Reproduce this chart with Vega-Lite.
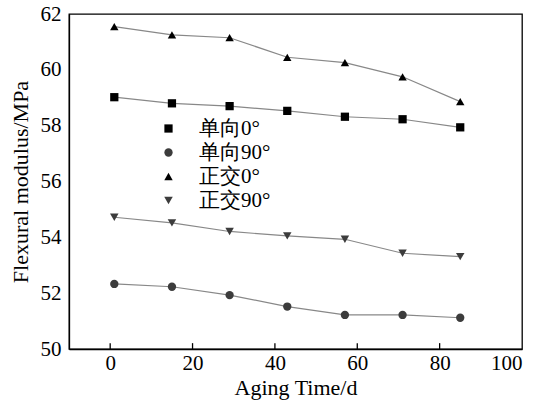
{
  "$schema": "https://vega.github.io/schema/vega-lite/v6.json",
  "width": 453,
  "height": 335,
  "autosize": "none",
  "padding": {"left": 69, "top": 14, "right": 13, "bottom": 54},
  "background": "white",
  "config": {
    "view": {"stroke": "#000", "strokeWidth": 1.3},
    "font": "Liberation Serif",
    "axis": {
      "grid": false,
      "domainColor": "#000",
      "domainWidth": 1.3,
      "tickColor": "#000",
      "tickWidth": 1.3,
      "labelColor": "#000",
      "titleColor": "#000",
      "labelFont": "Liberation Serif",
      "titleFont": "Liberation Serif",
      "labelFontSize": 21,
      "titleFontSize": 22,
      "titleFontWeight": "normal"
    },
    "legend": {
      "title": null,
      "orient": "none",
      "legendX": 89,
      "legendY": 104,
      "symbolSize": 64,
      "labelFont": "Liberation Serif",
      "labelFontSize": 21,
      "labelColor": "#000",
      "labelOffset": 20,
      "rowPadding": 2
    }
  },
  "data": {
    "values": [
      {"t": 1, "s": "单向0°", "v": 59.02},
      {"t": 15, "s": "单向0°", "v": 58.8},
      {"t": 29, "s": "单向0°", "v": 58.7},
      {"t": 43, "s": "单向0°", "v": 58.53},
      {"t": 57, "s": "单向0°", "v": 58.32},
      {"t": 71, "s": "单向0°", "v": 58.23},
      {"t": 85, "s": "单向0°", "v": 57.94},
      {"t": 1, "s": "单向90°", "v": 52.33},
      {"t": 15, "s": "单向90°", "v": 52.23},
      {"t": 29, "s": "单向90°", "v": 51.93},
      {"t": 43, "s": "单向90°", "v": 51.52},
      {"t": 57, "s": "单向90°", "v": 51.22},
      {"t": 71, "s": "单向90°", "v": 51.22},
      {"t": 85, "s": "单向90°", "v": 51.12},
      {"t": 1, "s": "正交0°", "v": 61.55},
      {"t": 15, "s": "正交0°", "v": 61.25},
      {"t": 29, "s": "正交0°", "v": 61.15},
      {"t": 43, "s": "正交0°", "v": 60.45},
      {"t": 57, "s": "正交0°", "v": 60.26},
      {"t": 71, "s": "正交0°", "v": 59.75},
      {"t": 85, "s": "正交0°", "v": 58.86},
      {"t": 1, "s": "正交90°", "v": 54.72},
      {"t": 15, "s": "正交90°", "v": 54.52},
      {"t": 29, "s": "正交90°", "v": 54.21},
      {"t": 43, "s": "正交90°", "v": 54.05},
      {"t": 57, "s": "正交90°", "v": 53.93},
      {"t": 71, "s": "正交90°", "v": 53.43},
      {"t": 85, "s": "正交90°", "v": 53.31}
    ]
  },
  "layer": [
    {
      "mark": {"type": "line", "color": "#888", "strokeWidth": 1.2},
      "encoding": {
        "x": {
          "field": "t",
          "type": "quantitative",
          "scale": {"domain": [-10, 100], "nice": false, "zero": false},
          "axis": {
            "title": "Aging Time/d",
            "values": [0, 20, 40, 60, 80, 100],
            "ticks": false,
            "labelPadding": 3,
            "titlePadding": 4
          }
        },
        "y": {
          "field": "v",
          "type": "quantitative",
          "scale": {"domain": [50, 62], "nice": false, "zero": false},
          "axis": {
            "title": "Flexural modulus/MPa",
            "values": [50, 52, 54, 56, 58, 60, 62],
            "ticks": false,
            "labelPadding": 8,
            "titlePadding": 8
          }
        },
        "detail": {"field": "s", "type": "nominal"}
      }
    },
    {
      "mark": {"type": "point", "filled": true, "opacity": 1},
      "encoding": {
        "x": {"field": "t", "type": "quantitative"},
        "y": {"field": "v", "type": "quantitative"},
        "shape": {
          "field": "s",
          "type": "nominal",
          "scale": {
            "domain": ["单向0°", "单向90°", "正交0°", "正交90°"],
            "range": ["square", "circle", "triangle-up", "triangle-down"]
          }
        },
        "color": {
          "field": "s",
          "type": "nominal",
          "scale": {
            "domain": ["单向0°", "单向90°", "正交0°", "正交90°"],
            "range": ["#000000", "#3c3c3c", "#000000", "#3c3c3c"]
          }
        },
        "size": {
          "field": "s",
          "type": "nominal",
          "scale": {
            "domain": ["单向0°", "单向90°", "正交0°", "正交90°"],
            "range": [68, 72, 120, 120]
          }
        }
      }
    },
    {
      "data": {"values": [{"t": 0}, {"t": 20}, {"t": 40}, {"t": 60}, {"t": 80}]},
      "mark": {"type": "rule", "color": "#000", "strokeWidth": 1.3},
      "encoding": {
        "x": {"field": "t", "type": "quantitative"},
        "y": {"datum": 50},
        "y2": {"datum": 50.21}
      }
    }
  ]
}
